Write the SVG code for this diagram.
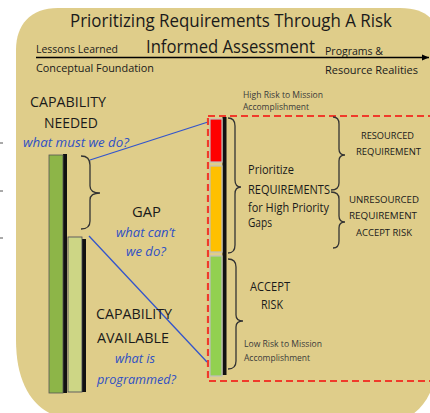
<svg xmlns="http://www.w3.org/2000/svg" width="430" height="413" viewBox="0 0 430 413">
<defs>
<style>
text{font-family:"Open Sans","Liberation Sans",sans-serif;fill:#1a1a1a}
.t{font-size:19px}
.s{font-size:10.5px}
.g{font-size:9px;fill:#3a3a3a}
.cap{font-size:15px}
.q{font-size:12px;font-style:italic;fill:#2f50c4}
.m{font-size:12px}
.r{font-size:9.5px}
.brace{fill:none;stroke:#333;stroke-width:1.3}
.blue{stroke:#3355cc;stroke-width:1.3;fill:none}
.seg{stroke:#bfbfbf;stroke-width:1.2}
.shadow{fill:#111}
</style>
<marker id="ah" markerWidth="8" markerHeight="8" refX="7" refY="4" orient="auto" markerUnits="userSpaceOnUse">
<path d="M0,1 L7,4 L0,7 Z" fill="#000"/>
</marker>
</defs>
<rect width="430" height="413" fill="#fff"/>
<path d="M58,8 H400 C420,8 430,15 436,25 V375 C430,400 418,415 400,420 H80 C40,420 16,392 16,340 V50 C16,25 30,8 58,8 Z" fill="#dfcd8a"/>
<g id="ticks" stroke="#555" stroke-width="1">
<line x1="0" y1="143" x2="3" y2="143"/>
<line x1="0" y1="191" x2="3" y2="191"/>
<line x1="0" y1="238" x2="3" y2="238"/>
</g>
<g id="title">
<text class="t" x="70" y="27" textLength="322" lengthAdjust="spacingAndGlyphs">Prioritizing Requirements Through A Risk</text>
<text class="t" x="146" y="53" textLength="169" lengthAdjust="spacingAndGlyphs">Informed Assessment</text>
</g>
<g id="timeline">
<text class="s" x="36" y="53" textLength="82" lengthAdjust="spacingAndGlyphs">Lessons Learned</text>
<text class="s" x="36" y="72" textLength="118" lengthAdjust="spacingAndGlyphs">Conceptual Foundation</text>
<text class="s" x="325" y="55" textLength="58" lengthAdjust="spacingAndGlyphs">Programs &amp;</text>
<text class="s" x="325" y="74" textLength="93" lengthAdjust="spacingAndGlyphs">Resource Realities</text>
</g>
<g id="connectors">
<line x1="36" y1="57.5" x2="429" y2="57.5" stroke="#000" stroke-width="1.4" marker-end="url(#ah)"/>
<line class="blue" x1="90" y1="160" x2="208" y2="122"/>
<line class="blue" x1="89" y1="236" x2="207" y2="362"/>
</g>
<g id="risk-box">
<rect x="208" y="116" width="240" height="265" fill="none" stroke="#f03a2a" stroke-width="2.2" stroke-dasharray="7,4"/>
</g>
<g id="capability-needed">
<rect class="shadow" x="63" y="154" width="4" height="239"/>
<rect x="49" y="155" width="14" height="238" fill="#8db548" stroke="#555" stroke-width="0.8"/>
<text class="cap" x="30" y="107" textLength="76" lengthAdjust="spacingAndGlyphs">CAPABILITY</text>
<text class="cap" x="44" y="128" textLength="54" lengthAdjust="spacingAndGlyphs">NEEDED</text>
<text class="q" x="23" y="147" textLength="106" lengthAdjust="spacingAndGlyphs">what must we do?</text>
</g>
<g id="capability-available">
<rect class="shadow" x="82" y="239" width="4" height="153"/>
<rect x="68" y="237" width="14" height="155" fill="#cdd685" stroke="#445" stroke-width="0.8"/>
<text class="cap" x="96" y="319" textLength="76" lengthAdjust="spacingAndGlyphs">CAPABILITY</text>
<text class="cap" x="97" y="343" textLength="72" lengthAdjust="spacingAndGlyphs">AVAILABLE</text>
<text class="q" x="115" y="363" textLength="40" lengthAdjust="spacingAndGlyphs">what is</text>
<text class="q" x="97" y="384" textLength="79" lengthAdjust="spacingAndGlyphs">programmed?</text>
</g>
<g id="gap">
<path class="brace" d="M81,156 Q90,156 90,165 L90,186 Q90,193 100,193 Q90,193 90,200 L90,221 Q90,229 81,229"/>
<text class="cap" x="132" y="217" textLength="29" lengthAdjust="spacingAndGlyphs">GAP</text>
<text class="q" x="116" y="237" textLength="59" lengthAdjust="spacingAndGlyphs">what can’t</text>
<text class="q" x="126" y="256" textLength="40" lengthAdjust="spacingAndGlyphs">we do?</text>
</g>
<g id="risk-bar">
<rect class="shadow" x="222.5" y="117" width="4" height="258"/>
<rect class="seg" x="210" y="119" width="12" height="43" fill="#ff0000"/>
<rect class="seg" x="210" y="166" width="12" height="86" fill="#ffc000"/>
<rect class="seg" x="210" y="256" width="12" height="120" fill="#92d050"/>
<text class="g" x="243" y="98" textLength="80" lengthAdjust="spacingAndGlyphs">High Risk to Mission</text>
<text class="g" x="243" y="110" textLength="66" lengthAdjust="spacingAndGlyphs">Accomplishment</text>
<text class="g" x="244" y="347" textLength="78" lengthAdjust="spacingAndGlyphs">Low Risk to Mission</text>
<text class="g" x="244" y="361" textLength="66" lengthAdjust="spacingAndGlyphs">Accomplishment</text>
</g>
<g id="prioritize">
<path class="brace" d="M228,118 Q235,118 235,126 L235,180 Q235,187 241,187 Q235,187 235,194 L235,245 Q235,253 228,253"/>
<text class="m" x="248" y="174" textLength="46" lengthAdjust="spacingAndGlyphs">Prioritize</text>
<text class="m" x="248" y="194" textLength="82" lengthAdjust="spacingAndGlyphs">REQUIREMENTS</text>
<text class="m" x="248" y="212" textLength="81" lengthAdjust="spacingAndGlyphs">for High Priority</text>
<text class="m" x="248" y="227" textLength="24" lengthAdjust="spacingAndGlyphs">Gaps</text>
</g>
<g id="accept-risk">
<path class="brace" d="M228,259 Q236,259 236,267 L236,315 Q236,321 243,321 Q236,321 236,327 L236,361 Q236,369 228,369"/>
<text class="m" x="250" y="291" textLength="40" lengthAdjust="spacingAndGlyphs">ACCEPT</text>
<text class="m" x="261" y="309" textLength="22" lengthAdjust="spacingAndGlyphs">RISK</text>
</g>
<g id="resourced">
<path class="brace" d="M333,117 Q339,117 339,124 L339,149 Q339,155 345,155 Q339,155 339,161 L339,183 Q339,190 331,190"/>
<text class="r" x="361" y="139" textLength="53" lengthAdjust="spacingAndGlyphs">RESOURCED</text>
<text class="r" x="356" y="155" textLength="65" lengthAdjust="spacingAndGlyphs">REQUIREMENT</text>
</g>
<g id="unresourced">
<path class="brace" d="M331,192 Q339,192 339,199 L339,216 Q339,222 345,222 Q339,222 339,228 L339,241 Q339,248 333,248"/>
<text class="r" x="349" y="203" textLength="70" lengthAdjust="spacingAndGlyphs">UNRESOURCED</text>
<text class="r" x="349" y="219" textLength="68" lengthAdjust="spacingAndGlyphs">REQUIREMENT</text>
<text class="r" x="356" y="236" textLength="56" lengthAdjust="spacingAndGlyphs">ACCEPT RISK</text>
</g>
</svg>
